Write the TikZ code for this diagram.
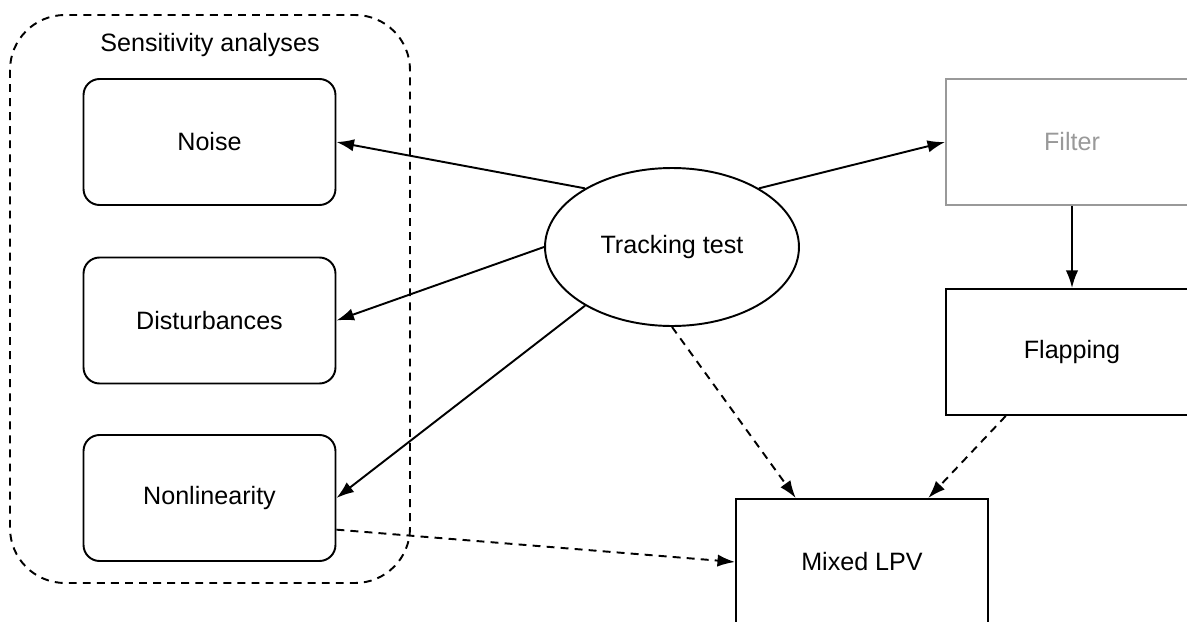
\documentclass[tikz,border=0pt]{standalone}
\usepackage{fontspec}
\setmainfont{Liberation Sans}
\usetikzlibrary{shapes.geometric,arrows.meta}
\tikzset{
  box/.style={draw, rectangle, line width=1.1pt, minimum width=5.04cm, minimum height=2.52cm, align=center},
  sbox/.style={box, rounded corners=0.32cm},
  dashline/.style={->, dash pattern=on 4.5pt off 3.5pt},
}
\begin{document}
\begin{tikzpicture}[x=0.02cm, y=-0.02cm, line width=1.1pt, >={Latex[length=10pt,width=7pt]},
  font=\fontsize{14.3}{17}\selectfont]
\useasboundingbox (0,0) rectangle (1187,622);
\clip (0,0) rectangle (1187,622);
\draw[rounded corners=1.1cm, dash pattern=on 4.5pt off 3.5pt] (10,15) rectangle (410,583);
\node (title) at (210,45) {Sensitivity analyses};
\node[sbox] (noise) at (209.5,142) {Noise};
\node[sbox] (dist) at (209.5,320.5) {Disturbances};
\node[sbox] (nonlin) at (209.5,498) {Nonlinearity};
\node[draw, ellipse, minimum width=5.08cm, minimum height=3.16cm] (track) at (672,247) {Tracking test};
\node[box, draw=black!40, text=black!40] (filter) at (1072,142) {Filter};
\node[box] (flap) at (1072,352) {Flapping};
\node[box] (mixed) at (862,562) {Mixed LPV};
\draw[->] (track.146) -- (noise.east);
\draw[->] (track.west) -- (dist.east);
\draw[->] (track.214) -- (nonlin.east);
\draw[->] (track.34) -- (filter.west);
\draw[->] (filter.south) -- (flap.north);
\draw[dashline] (track.south) -- (mixed.136);
\draw[dashline] (flap.224) -- (mixed.44);
\draw[dashline] (nonlin.-14) -- (mixed.west);
\end{tikzpicture}
\end{document}
